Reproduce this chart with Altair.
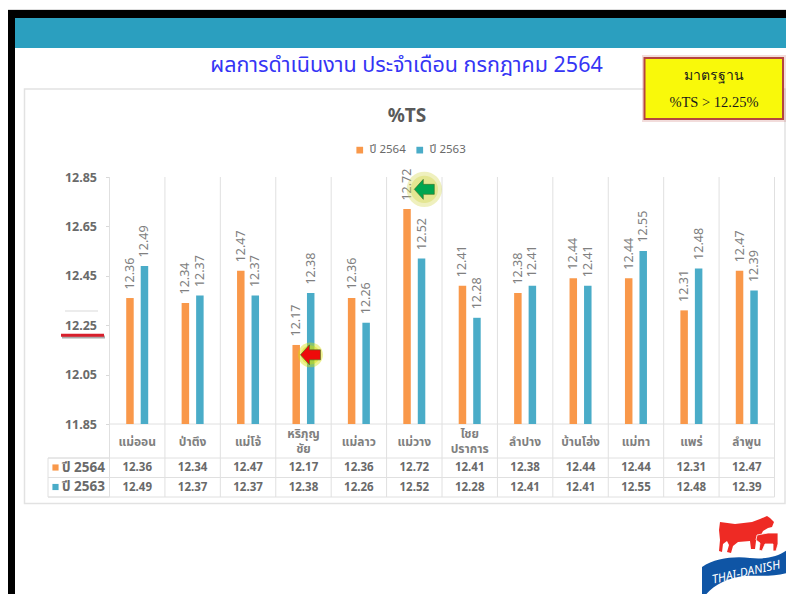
import altair as alt
import pandas as pd

CATEGORIES = ["แม่ออน", "ป่าตึง", "แม่โจ้", "หริภุญชัย", "แม่ลาว", "แม่วาง", "ไชยปราการ",
              "ลำปาง", "บ้านโฮ่ง", "แม่ทา", "แพร่", "ลำพูน"]
WRAPPED = {"หริภุญชัย": "หริภุญ\nชัย", "ไชยปราการ": "ไชย\nปราการ"}
SERIES_2564 = [12.36, 12.34, 12.47, 12.17, 12.36, 12.72, 12.41, 12.38, 12.44, 12.44, 12.31, 12.47]
SERIES_2563 = [12.49, 12.37, 12.37, 12.38, 12.26, 12.52, 12.28, 12.41, 12.41, 12.55, 12.48, 12.39]
Y_TICKS = [11.85, 12.05, 12.25, 12.45, 12.65, 12.85]
NAME_A, NAME_B = "ปี 2564", "ปี 2563"
HEADING = "ผลการดำเนินงาน ประจำเดือน กรกฎาคม 2564"
CHART_TITLE = "%TS"
STD_1, STD_2 = "มาตรฐาน", "%TS > 12.25%"
LOGO_TEXT = "THAI-DANISH"

ORANGE, TEAL = "#f9984a", "#4aacc8"
GREY = "#6a6a6a"
LABEL_GREY = "#808080"
FONT = "Noto Sans, Noto Sans Thai, DejaVu Sans, sans-serif"

W, H = 778, 586
# all pixel helpers below take reference-picture coordinates
px = lambda v: v - 8

df = pd.DataFrame({"cat": CATEGORIES, "a": SERIES_2564, "b": SERIES_2563})
long = pd.concat([
    pd.DataFrame({"cat": CATEGORIES, "series": NAME_A, "v": SERIES_2564}),
    pd.DataFrame({"cat": CATEGORIES, "series": NAME_B, "v": SERIES_2563}),
])
one = pd.DataFrame({"k": [0]})
wrapped = pd.DataFrame({"cat": list(WRAPPED), "lbl": list(WRAPPED.values())})

x_scale = alt.Scale(type="band", domain=CATEGORIES, range=[px(109.5), px(774.5)], paddingInner=0, paddingOuter=0)
# the two long names are wrapped over two lines by a text layer further down
x_axis = alt.Axis(orient="bottom", offset=-(H - px(424)), domain=False, ticks=False, labelAngle=0,
                  labelFont=FONT, labelFontSize=12, labelFontWeight="bold", labelColor=LABEL_GREY,
                  labelPadding=17, labelBaseline="middle",
                  values=[n for n in CATEGORIES if n not in WRAPPED])
x_enc = alt.X("cat:N", sort=CATEGORIES, title=None, scale=x_scale, axis=x_axis)
y_scale = alt.Scale(domain=[Y_TICKS[0], Y_TICKS[-1]], range=[px(424), px(177)], nice=False, zero=False)
y_enc = alt.Y("v:Q", title=None, scale=y_scale,
              axis=alt.Axis(orient="left", offset=-px(109.5), values=Y_TICKS, format=".2f", grid=False, domain=False,
                            tickSize=4, tickColor="#d9d9d9", labelFont=FONT, labelFontSize=12.5,
                            labelFontWeight="bold", labelColor=GREY, labelPadding=9))
color_enc = alt.Color("series:N", title=None,
                      scale=alt.Scale(domain=[NAME_A, NAME_B], range=[ORANGE, TEAL]),
                      legend=alt.Legend(orient="none", legendX=px(354), legendY=px(144), direction="horizontal",
                                        symbolType="square", symbolSize=45, symbolStrokeWidth=0, columnPadding=8,
                                        labelFont=FONT, labelFontSize=11.5, labelColor=GREY, padding=0))


def rect(x1, x2, y1, y2, **kw):
    return alt.Chart(one).mark_rect(**kw).encode(
        x=alt.value(px(x1)), x2=alt.value(px(x2)), y=alt.value(px(y1)), y2=alt.value(px(y2)))


def text(s, x, y, **kw):
    return alt.Chart(one).mark_text(**kw).encode(
        x=alt.value(px(x)), y=alt.value(px(y)), text=alt.value(s))


def hline(x1, x2, y, color="#e0e0e0", width=1):
    return alt.Chart(one).mark_rule(color=color, strokeWidth=width).encode(
        x=alt.value(px(x1)), x2=alt.value(px(x2)), y=alt.value(px(y)))


def shape(path, **kw):
    return alt.Chart(one).mark_point(shape=path, size=4, filled=True, **kw).encode(
        x=alt.value(0), y=alt.value(0))


def poly(points):
    return "M" + "L".join(f"{px(a)},{px(b)}" for a, b in points) + "Z"


layers = [
    hline(8, 794, 9.5, "#dddddd"),
    rect(7, 15, 10, 602, color="#000000"),
    rect(7, 794, 10, 18, color="#000000"),
    rect(15, 794, 18, 48, color="#2b9fbf"),
    rect(24.5, 785, 89, 503.5, fillOpacity=0, stroke="#e2e2e2", strokeWidth=1.5),
    text(HEADING, 406.5, 66, fontSize=21.5, color="#3535f5", font=FONT, align="center", baseline="middle"),
    text(CHART_TITLE, 407, 116, fontSize=19, fontWeight="bold", color="#595959", font=FONT, align="center", baseline="middle"),
    hline(65, 98, 311, "#d9d9d9", 1),
    # table lines
    hline(48, 774.5, 458), hline(48, 774.5, 477.5), hline(48, 774.5, 497),
    hline(109.5, 774.5, 424),
    rect(48, 109.5, 458, 497, fillOpacity=0, stroke="#e0e0e0", strokeWidth=1),
    # vertical grid
    alt.Chart(df).mark_rule(color="#e0e0e0", strokeWidth=1).encode(
        x=alt.X("cat:N", sort=CATEGORIES, bandPosition=0, scale=x_scale, axis=x_axis, title=None),
        y=alt.value(px(177)), y2=alt.value(px(497))),
    alt.Chart(df.tail(1)).mark_rule(color="#e0e0e0", strokeWidth=1).encode(
        x=alt.X("cat:N", sort=CATEGORIES, bandPosition=1, scale=x_scale, axis=x_axis, title=None),
        y=alt.value(px(177)), y2=alt.value(px(497))),
    alt.Chart(wrapped).mark_text(font=FONT, fontSize=12, fontWeight="bold", color=LABEL_GREY, align="center",
                                 baseline="middle", lineBreak="\n", lineHeight=15).encode(
        x=x_enc, y=alt.value(px(434)), text="lbl:N"),
]

for name, shift in ((NAME_A, -7.25), (NAME_B, 7.25)):
    sub = long[long.series == name]
    layers.append(alt.Chart(sub).mark_bar(width=7.5, xOffset=shift).encode(
        x=x_enc, y=y_enc, y2=alt.datum(Y_TICKS[0]), color=color_enc))
    layers.append(alt.Chart(sub).mark_text(angle=270, align="left", baseline="middle", font=FONT, fontSize=12.5,
                                           color=LABEL_GREY, xOffset=shift, yOffset=-8.5).encode(
        x=x_enc, y=y_enc, text=alt.Text("v:Q", format=".2f")))

# data table
for field, y in (("a", 467.5), ("b", 487.5)):
    layers.append(alt.Chart(df).mark_text(font=FONT, fontSize=11.5, fontWeight="bold", color=GREY,
                                          align="center", baseline="middle").encode(
        x=x_enc, y=alt.value(px(y)), text=alt.Text(f"{field}:Q", format=".2f")))

for name, col, y in ((NAME_A, ORANGE, 467.5), (NAME_B, TEAL, 487)):
    layers.append(alt.Chart(one).mark_point(shape="square", filled=True, size=38, color=col, opacity=1).encode(
        x=alt.value(px(55.5)), y=alt.value(px(y))))
    layers.append(text(name, 62, y, font=FONT, fontSize=13.5, fontWeight="bold", color=GREY, align="left", baseline="middle"))

# standard underline
layers += [
    rect(62, 105, 335.5, 338.5, color="#555555", opacity=0.5),
    rect(61, 104, 333.8, 336.8, color="#d81f2c"),
]

# standard note
layers += [
    rect(642, 786, 55, 122, color="#c0504d", opacity=0.2),
    rect(644.5, 783, 58, 119, fill="#f9f90a", stroke="#b5453f", strokeWidth=2),
    text(STD_1, 714, 76, font="Liberation Serif", fontSize=14, color="#1a1a1a", align="center", baseline="middle"),
    text(STD_2, 714, 103, font="Liberation Serif", fontSize=14.5, color="#1a1a1a", align="center", baseline="middle"),
]

# arrows
ARROW = "M-10,0L-1,-10L-1,-5L10,-5L10,5L-1,5L-1,10Z"
arrow_points = [("แม่วาง", 12.80, 10, "#00a650", "#cfd23a", 1250, 0.55),
                ("หริภุญชัย", 12.13, 7, "#ee0a0a", "#d6e000", 620, 0.7)]
for cat, val, dx, fill, glow, glow_size, op in arrow_points:
    pt = pd.DataFrame({"cat": [cat], "v": [val]})
    layers.append(alt.Chart(pt).mark_point(shape="circle", filled=True, size=glow_size, color=glow, opacity=op * 0.6,
                                           xOffset=dx).encode(x=x_enc, y=y_enc))
    layers.append(alt.Chart(pt).mark_point(shape="circle", filled=True, size=glow_size * 0.6, color=glow, opacity=op * 0.6,
                                           xOffset=dx).encode(x=x_enc, y=y_enc))
    layers.append(alt.Chart(pt).mark_point(shape=ARROW, filled=True, size=4, color=fill, opacity=1,
                                           xOffset=dx, stroke="#3d6b1f", strokeWidth=0.6).encode(x=x_enc, y=y_enc))

# logo
COW = [(720, 522), (735, 524), (752, 522), (760, 519), (767, 516), (770, 518), (774, 522), (772, 527), (768, 528),
       (763, 531), (760, 537), (756, 541), (755, 549), (751, 549), (750, 541), (738, 542), (733, 546), (731, 553),
       (727, 552), (729, 545), (727, 541), (723, 544), (722, 552), (719, 551), (720, 540), (719, 530)]
CALF = [(757, 535), (768, 533), (778, 533), (778, 544), (776, 551), (773, 551), (773, 544), (765, 544), (762, 551),
        (759, 550), (760, 543), (756, 540)]
c = lambda *p: " ".join(f"{px(p[i])},{px(p[i + 1])}" for i in range(0, len(p), 2))
BANNER = (f"M{c(702, 567)}C{c(715, 558, 735, 556, 750, 558)}C{c(770, 560, 785, 555, 794, 543)}L{c(794, 570)}"
          f"C{c(780, 578, 760, 575, 745, 576)}C{c(725, 578, 710, 587, 702, 600)}Z")
layers += [
    shape(poly(COW), color="#ee2a24", opacity=1),
    shape(poly(CALF), color="#ee2a24", opacity=1, stroke="#ffffff", strokeWidth=0.8),
    shape(BANNER, color="#0f55a5", opacity=1),
    text(LOGO_TEXT, 746, 572, font=FONT, fontSize=12, fontStyle="italic", color="#ffffff", angle=347,
         align="center", baseline="middle"),
]

chart = alt.layer(*layers).properties(
    width=W, height=H, padding=0, autosize=alt.AutoSizeParams(type="none"), background="#ffffff",
).configure_view(stroke=None)

chart.save("out.html", embed_options={"renderer": "svg", "actions": False})
